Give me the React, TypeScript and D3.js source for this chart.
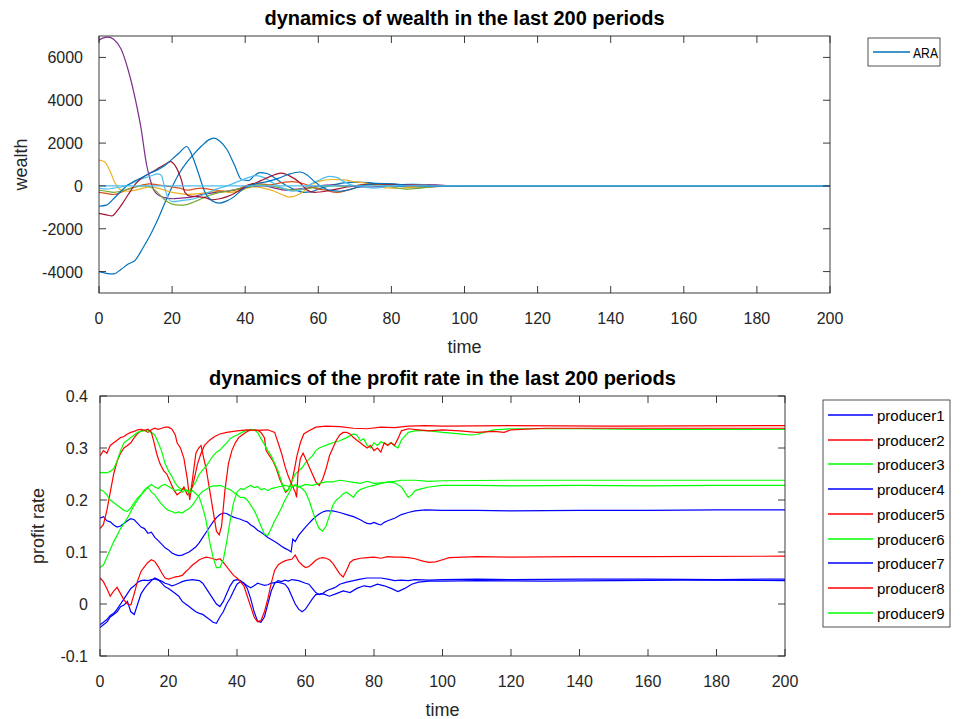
import React from "react";
import * as d3 from "d3";

type Pt = [number, number];

// ---------- tick labels ----------
const timeTicks = [0, 20, 40, 60, 80, 100, 120, 140, 160, 180, 200];
const wealthTicks = [-4000, -2000, 0, 2000, 4000, 6000];
const profitTicks = [-0.1, 0, 0.1, 0.2, 0.3, 0.4];

// ---------- top panel: wealth ----------
const wealthARA: Pt[] = [[0,-4000],[2,-4080],[4,-4110],[6,-3900],[8,-3650],[10,-3450],[12,-2900],[14,-2300],[16,-1600],[18,-800],[20,-50],[22,600],[24,1100],[26,1500],[28,1850],[30,2150],[31.5,2230],[33,2100],[35,1700],[37,1000],[39,300],[41,250],[42.5,480],[44,620],[46,580],[48,380],[50,150],[52,-50],[54,-200],[56,-300],[58,-280],[60,-150],[63,0],[66,120],[70,180],[74,150],[78,60],[82,-20],[86,-50],[90,-30],[95,20],[100,10],[110,0],[200,0]];
const wealth2: Pt[] = [[0,-300],[2,-350],[4,-400],[6,-300],[8,-150],[10,-50],[12,50],[14,100],[16,50],[18,0],[20,-50],[22,-100],[24,-200],[26,-150],[28,-100],[30,-150],[32,-200],[35,-250],[38,-150],[41,50],[44,100],[47,50],[50,150],[53,200],[56,100],[59,-100],[62,-200],[65,-300],[68,-200],[71,-50],[74,50],[78,100],[82,50],[86,-30],[90,-50],[95,0],[100,10],[110,0],[200,0]];
const wealth3: Pt[] = [[0,1200],[1.5,1130],[3,700],[4.5,100],[6,-200],[8,-250],[10,-200],[12,-100],[14,-50],[16,-100],[18,-200],[20,-300],[22,-350],[24,-400],[26,-380],[28,-350],[30,-300],[33,-250],[36,-300],[39,-200],[42,-50],[45,-100],[48,-250],[50,-400],[52,-520],[54,-450],[56,-250],[58,50],[61,250],[64,300],[67,280],[70,200],[74,100],[78,-80],[82,-110],[86,-60],[90,0],[95,-20],[100,0],[110,0],[200,0]];
const wealth4: Pt[] = [[0,6800],[1,6900],[2.5,6950],[4,6850],[6,6400],[8,5400],[10,4000],[11.5,2700],[13,1000],[14,300],[15,-200],[16.5,-450],[18,-550],[20,-600],[22,-580],[24,-550],[26,-500],[28,-400],[30,-350],[32,-300],[35,-250],[38,-150],[41,-50],[45,0],[48,-100],[51,-200],[54,-150],[57,-100],[60,0],[64,50],[68,0],[72,-50],[78,-20],[85,30],[90,60],[95,20],[100,0],[110,0],[200,0]];
const wealth5: Pt[] = [[0,-200],[2,-250],[4,-300],[6,-250],[8,-150],[10,-50],[12,0],[14,-50],[16,-300],[18,-650],[20,-850],[22,-900],[24,-870],[26,-750],[28,-600],[30,-450],[32,-350],[35,-250],[38,-150],[41,-50],[44,50],[47,0],[50,-100],[53,-200],[56,-150],[60,-50],[64,0],[68,-20],[72,50],[76,80],[80,-50],[84,-150],[88,-100],[92,-30],[100,0],[110,0],[200,0]];
const wealth6: Pt[] = [[0,-100],[2,-150],[4,-100],[6,-50],[8,50],[10,200],[12,350],[14,450],[16,560],[17,500],[18,-100],[19,-600],[20,-730],[22,-700],[24,-650],[26,-600],[28,-450],[30,-300],[32,-150],[35,0],[38,200],[41,400],[43,480],[45,400],[47,200],[49,0],[51,-150],[53,-250],[55,-200],[57,0],[60,250],[63,450],[65,400],[67,200],[69,50],[72,-50],[75,-100],[78,-50],[82,50],[86,80],[90,40],[95,0],[100,0],[110,0],[200,0]];
const wealth7: Pt[] = [[0,-1280],[2,-1350],[3.5,-1400],[5,-1150],[6.5,-800],[8,-400],[10,100],[12,400],[14,600],[16,800],[18,1000],[19.5,1130],[21,900],[22.5,300],[23.5,-300],[25,-480],[27,-500],[29,-550],[31,-650],[33,-600],[35,-500],[37,-350],[39,-150],[41,50],[43,150],[45,300],[48,520],[50,600],[52,480],[55,150],[57,-200],[59,-300],[62,-250],[65,-150],[68,-50],[72,50],[76,100],[80,80],[85,50],[90,30],[95,10],[100,0],[110,0],[200,0]];
const wealth8: Pt[] = [[0,-950],[2,-900],[4,-600],[6,-250],[8,50],[10,250],[12,420],[14,600],[16,750],[18,950],[20,1250],[22,1550],[24,1840],[25,1600],[27,700],[29,-300],[31,-700],[33,-800],[35,-700],[37,-500],[39,-200],[41,0],[43,100],[46,200],[49,350],[52,550],[55,650],[57,500],[59,200],[61,-50],[63,-200],[66,-250],[69,-150],[72,0],[76,120],[80,100],[85,20],[90,-20],[100,0],[110,0],[200,0]];
const wealth9: Pt[] = [[0,0],[200,0]];

const wealthSeries = [wealthARA, wealth2, wealth3, wealth4, wealth5, wealth6, wealth7, wealth8, wealth9];
const wealthColors = ["#0072BD", "#D95319", "#EDB120", "#7E2F8E", "#77AC30", "#4DBEEE", "#A2142F", "#0072BD", "#4DBEEE"];
const wealthLegend = ["ARA"];

// ---------- bottom panel: profit rate ----------
const producer1: Pt[] = [[0,0.165],[1,0.168],[2,0.16],[3,0.158],[4,0.152],[5,0.148],[6,0.15],[7,0.155],[8,0.16],[9,0.164],[10,0.162],[11,0.155],[12,0.148],[13,0.145],[14,0.136],[15,0.138],[16,0.128],[17,0.122],[18,0.115],[19,0.108],[20,0.104],[21,0.098],[22,0.095],[23,0.093],[24,0.094],[25,0.097],[26,0.1],[27,0.105],[28,0.11],[29,0.118],[30,0.128],[31,0.138],[32,0.148],[33,0.158],[34,0.166],[35,0.172],[36,0.175],[37,0.174],[38,0.17],[39,0.167],[40,0.165],[41,0.163],[42,0.16],[43,0.158],[44,0.152],[45,0.148],[46,0.142],[47,0.138],[48,0.133],[49,0.128],[50,0.124],[51,0.12],[52,0.116],[53,0.111],[54,0.107],[55,0.104],[55.8,0.1],[56.3,0.125],[57,0.12],[58,0.132],[59,0.14],[60,0.148],[61,0.155],[62,0.162],[63,0.168],[64,0.173],[65,0.177],[66,0.179],[68,0.179],[70,0.176],[72,0.172],[74,0.168],[76,0.162],[77,0.158],[78,0.155],[79,0.154],[80,0.157],[81,0.154],[82,0.152],[83,0.157],[84,0.16],[86,0.165],[88,0.172],[90,0.176],[92,0.179],[95,0.181],[100,0.18],[110,0.18],[120,0.179],[140,0.18],[160,0.18],[180,0.181],[200,0.181]];
const producer2: Pt[] = [[0,0.145],[1,0.153],[2,0.18],[3,0.215],[4,0.25],[5,0.275],[6,0.29],[7,0.3],[8,0.305],[9,0.31],[10,0.32],[11,0.328],[12,0.333],[13,0.334],[14,0.33],[15,0.335],[16,0.338],[17,0.336],[18,0.338],[19,0.34],[20,0.34],[21,0.336],[22,0.325],[22.5,0.31],[23.5,0.3],[24.5,0.28],[25.5,0.24],[26.2,0.2],[27,0.24],[28,0.29],[28.8,0.3],[29.5,0.305],[30.3,0.28],[31,0.26],[32,0.22],[33,0.18],[34,0.14],[34.8,0.133],[35.5,0.15],[36.5,0.22],[37.5,0.27],[38.5,0.295],[39.5,0.31],[40.5,0.32],[41.5,0.325],[42.5,0.33],[44,0.335],[45,0.335],[46,0.334],[47,0.33],[48,0.32],[48.5,0.295],[49.5,0.285],[50.5,0.275],[51.5,0.26],[52.5,0.24],[53.5,0.225],[54.2,0.215],[55,0.22],[56,0.235],[56.8,0.26],[57.5,0.285],[58.5,0.31],[59.5,0.327],[61,0.333],[63,0.34],[66,0.342],[70,0.341],[74,0.338],[78,0.337],[82,0.34],[86,0.339],[90,0.342],[95,0.343],[100,0.342],[120,0.343],[150,0.342],[200,0.343]];
const producer3: Pt[] = [[0,0.252],[1,0.253],[2,0.252],[3,0.255],[4,0.26],[5,0.275],[6,0.295],[7,0.31],[8,0.315],[9,0.32],[10,0.325],[11,0.33],[12,0.332],[13,0.334],[14,0.333],[15,0.33],[16,0.325],[17,0.31],[18,0.294],[19,0.27],[20,0.256],[21,0.245],[22,0.232],[23,0.224],[24,0.22],[25,0.22],[26,0.217],[27,0.225],[28,0.235],[29,0.25],[30,0.258],[31,0.265],[32,0.275],[33,0.285],[34,0.292],[35,0.296],[36,0.303],[37,0.31],[38,0.318],[39,0.322],[40,0.325],[42,0.332],[44,0.336],[45,0.335],[46,0.33],[47,0.318],[48,0.307],[49,0.295],[50,0.285],[51,0.27],[52,0.256],[53,0.235],[54,0.217],[55,0.22],[56,0.235],[57,0.25],[58,0.256],[59,0.262],[60,0.272],[61,0.278],[62,0.285],[63,0.295],[64,0.3],[65,0.303],[66,0.305],[67,0.308],[68,0.31],[70,0.314],[72,0.32],[74,0.327],[75,0.325],[76,0.314],[77,0.318],[78,0.305],[79,0.3],[80,0.31],[81,0.305],[82,0.312],[84,0.306],[85,0.31],[86,0.304],[87,0.3],[88,0.315],[90,0.33],[92,0.333],[95,0.334],[100,0.33],[105,0.327],[108,0.325],[110,0.326],[112,0.33],[115,0.335],[120,0.337],[140,0.337],[160,0.336],[200,0.336]];
const producer4: Pt[] = [[0,-0.04],[1,-0.035],[2,-0.03],[3,-0.022],[4,-0.018],[5,-0.01],[6,0],[7,0.01],[8,0.02],[9,0.03],[10,0.035],[11,0.042],[12,0.045],[13,0.046],[14,0.045],[15,0.047],[16,0.048],[17,0.046],[18,0.044],[19,0.04],[20,0.038],[21,0.035],[22,0.037],[23,0.04],[24,0.043],[25,0.045],[26,0.046],[27,0.047],[28,0.046],[29,0.045],[30,0.04],[31,0.03],[32,0.02],[33,0.01],[34,0],[35,-0.005],[36,0.005],[37,0.02],[38,0.035],[39,0.045],[40,0.047],[41,0.045],[42,0.04],[43,0.03],[44,0.01],[45,-0.015],[46,-0.033],[47,-0.035],[48,-0.025],[49,0],[50,0.025],[51,0.04],[52,0.045],[53,0.043],[54,0.046],[55,0.044],[56,0.047],[58,0.045],[60,0.04],[61,0.038],[62,0.03],[63,0.022],[64,0.018],[65,0.02],[66,0.025],[67,0.028],[68,0.03],[69,0.033],[70,0.038],[72,0.042],[74,0.045],[76,0.048],[78,0.05],[80,0.05],[82,0.05],[84,0.048],[86,0.045],[88,0.046],[90,0.045],[92,0.047],[96,0.046],[100,0.047],[110,0.048],[120,0.047],[140,0.048],[160,0.048],[180,0.047],[200,0.048]];
const producer5: Pt[] = [[0,0.285],[1,0.295],[2,0.29],[3,0.305],[4,0.31],[5,0.315],[6,0.32],[7,0.322],[8,0.327],[9,0.33],[10,0.332],[11,0.335],[12,0.336],[13,0.334],[14,0.336],[15,0.33],[15.8,0.31],[16.6,0.288],[17.5,0.27],[18.6,0.256],[19.5,0.25],[20.5,0.235],[21.5,0.22],[22.5,0.21],[23.5,0.215],[24.5,0.225],[25.5,0.21],[26.5,0.215],[27.5,0.24],[28.5,0.27],[29.5,0.29],[30.5,0.305],[32,0.315],[33.5,0.322],[35,0.327],[37,0.33],[40,0.333],[43,0.335],[46,0.334],[49,0.335],[51,0.33],[52,0.31],[53,0.29],[54,0.265],[55,0.245],[56,0.23],[57,0.215],[57.4,0.205],[57.8,0.25],[58.5,0.28],[59.3,0.29],[60,0.28],[61,0.265],[62,0.25],[63,0.235],[64,0.228],[65,0.24],[66,0.26],[67,0.285],[68,0.3],[69,0.315],[70,0.325],[71,0.33],[72,0.33],[73,0.327],[74,0.32],[75,0.315],[76,0.31],[77,0.305],[78,0.3],[79,0.305],[80,0.295],[81,0.3],[82,0.292],[83,0.31],[84,0.305],[85,0.31],[86,0.305],[87,0.318],[88,0.333],[90,0.337],[93,0.335],[96,0.333],[100,0.335],[105,0.333],[110,0.33],[115,0.332],[118,0.33],[120,0.335],[130,0.338],[150,0.338],[200,0.338]];
const producer6: Pt[] = [[0,0.22],[1,0.217],[2,0.21],[3,0.2],[4,0.195],[5,0.19],[6,0.185],[7,0.18],[8,0.178],[9,0.185],[10,0.195],[11,0.204],[12,0.21],[13,0.22],[14,0.225],[15,0.215],[16,0.21],[17,0.2],[18,0.192],[19,0.185],[20,0.18],[21,0.178],[22,0.175],[23,0.177],[24,0.175],[25,0.18],[26,0.183],[27,0.19],[28,0.2],[29,0.21],[30,0.217],[31,0.22],[32,0.225],[33,0.227],[34,0.227],[35,0.228],[36,0.226],[37,0.222],[38,0.22],[39,0.215],[40,0.21],[41,0.205],[42,0.205],[43,0.2],[44,0.19],[45,0.18],[46,0.166],[47,0.15],[48,0.134],[49,0.132],[50,0.145],[51,0.16],[52,0.172],[53,0.185],[54,0.2],[55,0.211],[56,0.224],[57,0.228],[58,0.225],[60,0.23],[62,0.228],[64,0.232],[66,0.235],[68,0.235],[70,0.238],[72,0.236],[74,0.234],[76,0.232],[78,0.236],[80,0.232],[84,0.234],[88,0.238],[92,0.238],[96,0.236],[100,0.237],[120,0.238],[150,0.238],[200,0.238]];
const producer7: Pt[] = [[0,-0.045],[1,-0.04],[2,-0.035],[3,-0.025],[4,-0.02],[5,-0.015],[6,-0.005],[7,-0.002],[8,0.005],[9,-0.015],[10,-0.02],[11,0],[12,0.02],[13,0.03],[14,0.038],[15,0.045],[16,0.05],[17,0.047],[18,0.04],[19,0.033],[20,0.03],[21,0.025],[22,0.02],[23,0.015],[24,0.005],[25,0],[26,-0.005],[27,-0.01],[28,-0.015],[29,-0.018],[30,-0.02],[31,-0.025],[32,-0.03],[33,-0.035],[34,-0.037],[35,-0.025],[36,-0.015],[37,0],[38,0.011],[39,0.025],[40,0.038],[41,0.043],[42,0.04],[43,0.035],[44,0.031],[45,0.035],[46,0.04],[47,0.038],[48,0.036],[49,0.037],[50,0.04],[52,0.042],[54,0.038],[55,0.03],[56,0.015],[57,0],[58,-0.01],[59,-0.015],[60,-0.01],[61,0],[62,0.01],[63,0.018],[65,0.02],[67,0.015],[69,0.02],[71,0.025],[73,0.022],[75,0.03],[77,0.035],[79,0.033],[81,0.038],[83,0.035],[85,0.03],[87,0.024],[89,0.03],[91,0.038],[93,0.042],[96,0.044],[100,0.044],[110,0.045],[130,0.044],[150,0.045],[170,0.046],[200,0.045]];
const producer8: Pt[] = [[0,0.05],[1,0.043],[2,0.03],[3,0.015],[4,0.025],[5,0.032],[6,0.02],[7,0.008],[8,0],[9,-0.002],[10,0.02],[11,0.045],[12,0.063],[13,0.072],[14,0.08],[15,0.085],[16,0.082],[17,0.072],[18,0.06],[19,0.05],[20,0.048],[21,0.05],[22,0.052],[23,0.053],[24,0.055],[25,0.062],[26,0.068],[27,0.075],[28,0.08],[29,0.085],[30,0.088],[31,0.09],[32,0.089],[33,0.087],[34,0.085],[35,0.087],[36,0.08],[37,0.072],[38,0.063],[39,0.055],[40,0.05],[41,0.043],[42,0.035],[43,0.015],[44,-0.005],[45,-0.025],[46,-0.034],[47,-0.032],[48,-0.015],[49,0.01],[50,0.04],[51,0.065],[52,0.075],[53,0.08],[54,0.083],[55,0.085],[56,0.086],[57,0.094],[58,0.082],[59,0.075],[60,0.07],[61,0.072],[62,0.078],[63,0.084],[64,0.088],[65,0.089],[66,0.088],[67,0.085],[68,0.078],[69,0.068],[70,0.058],[71,0.052],[72,0.065],[73,0.08],[74,0.085],[76,0.088],[78,0.089],[80,0.09],[82,0.088],[84,0.091],[86,0.09],[88,0.09],[90,0.089],[92,0.087],[94,0.083],[96,0.08],[98,0.081],[100,0.085],[102,0.089],[106,0.09],[110,0.091],[120,0.09],[140,0.091],[160,0.091],[200,0.092]];
const producer9: Pt[] = [[0,0.07],[1,0.075],[2,0.09],[3,0.105],[4,0.12],[5,0.132],[6,0.145],[7,0.155],[8,0.165],[9,0.178],[10,0.19],[11,0.2],[12,0.21],[13,0.217],[14,0.225],[15,0.23],[16,0.225],[17,0.222],[18,0.228],[19,0.23],[20,0.226],[21,0.222],[22,0.218],[23,0.22],[24,0.215],[25,0.22],[26,0.213],[27,0.218],[28,0.212],[29,0.205],[30,0.185],[31,0.16],[32,0.12],[33,0.09],[34,0.07],[35,0.07],[36,0.085],[37,0.12],[38,0.16],[39,0.195],[40,0.215],[41,0.222],[42,0.22],[43,0.225],[44,0.228],[45,0.224],[46,0.226],[47,0.22],[48,0.222],[49,0.218],[50,0.222],[52,0.225],[54,0.228],[56,0.225],[57,0.23],[58,0.226],[59,0.222],[60,0.215],[61,0.2],[62,0.18],[63,0.16],[64,0.145],[65,0.14],[66,0.15],[67,0.17],[68,0.19],[69,0.2],[70,0.205],[71,0.212],[72,0.215],[73,0.21],[74,0.205],[75,0.215],[76,0.22],[78,0.225],[80,0.228],[82,0.232],[84,0.235],[86,0.233],[88,0.225],[89,0.215],[90,0.205],[91,0.21],[92,0.218],[94,0.222],[96,0.225],[100,0.228],[110,0.228],[120,0.227],[140,0.228],[160,0.227],[180,0.228],[200,0.228]];

const profitSeries = [producer1, producer2, producer3, producer4, producer5, producer6, producer7, producer8, producer9];
const profitLabels = ["producer1", "producer2", "producer3", "producer4", "producer5", "producer6", "producer7", "producer8", "producer9"];
const profitColors = ["#0000FF", "#FF0000", "#00FF00", "#0000FF", "#FF0000", "#00FF00", "#0000FF", "#FF0000", "#00FF00"];

const FONT = "'Liberation Sans', Arial, Helvetica, sans-serif";
const AX = "#262626";

type AxesProps = {
  x: d3.ScaleLinear<number, number>;
  y: d3.ScaleLinear<number, number>;
  xTicks: number[];
  yTicks: number[];
  yFmt: (v: number) => string;
  yGap: number;
  title: string;
  xLabel: string;
  yLabel: string;
  yLabelX: number;
  children?: React.ReactNode;
};

function Axes({ x, y, xTicks, yTicks, yFmt, yGap, title, xLabel, yLabel, yLabelX, children }: AxesProps) {
  const [x0, x1] = x.range();
  const [y0, y1] = y.range();
  const tl = 7;
  const cx = (x0 + x1) / 2;
  return (
    <g>
      {children}
      <rect x={x0} y={y1} width={x1 - x0} height={y0 - y1} fill="none" stroke={AX} strokeWidth={0.9} />
      {xTicks.map((t) => (
        <g key={"xt" + t}>
          <line x1={x(t)} x2={x(t)} y1={y0} y2={y0 - tl} stroke={AX} strokeWidth={0.9} />
          <line x1={x(t)} x2={x(t)} y1={y1} y2={y1 + tl} stroke={AX} strokeWidth={0.9} />
          <text x={x(t)} y={y0 + 31} textAnchor="middle" fontSize={16} fill={AX} fontFamily={FONT}>{t}</text>
        </g>
      ))}
      {yTicks.map((t) => (
        <g key={"yt" + t}>
          <line x1={x0} x2={x0 + tl} y1={y(t)} y2={y(t)} stroke={AX} strokeWidth={0.9} />
          <line x1={x1} x2={x1 - tl} y1={y(t)} y2={y(t)} stroke={AX} strokeWidth={0.9} />
          <text x={x0 - yGap} y={y(t) + 6} textAnchor="end" fontSize={16} fill={AX} fontFamily={FONT}>{yFmt(t)}</text>
        </g>
      ))}
      <text x={cx} y={y1 - 11} textAnchor="middle" fontSize={20} fontWeight="bold" fill="#000" fontFamily={FONT}>{title}</text>
      <text x={cx} y={y0 + 60} textAnchor="middle" fontSize={18} fill={AX} fontFamily={FONT}>{xLabel}</text>
      <text transform={`translate(${yLabelX},${(y0 + y1) / 2}) rotate(-90)`} textAnchor="middle" fontSize={18} fill={AX} fontFamily={FONT}>{yLabel}</text>
    </g>
  );
}

export default function App() {
  const xTop = d3.scaleLinear().domain([0, 200]).range([99, 830]);
  const yTop = d3.scaleLinear().domain([-5000, 7000]).range([293, 36]);
  const xBot = d3.scaleLinear().domain([0, 200]).range([100, 785]);
  const yBot = d3.scaleLinear().domain([-0.1, 0.4]).range([656, 396]);

  const lineTop = d3.line<Pt>().x((d) => xTop(d[0])).y((d) => yTop(d[1])).curve(d3.curveMonotoneX);
  const lineBot = d3.line<Pt>().x((d) => xBot(d[0])).y((d) => yBot(d[1])).curve(d3.curveLinear);

  const legRowH = 24.7;
  const snap = (v: number) => Math.round(v);

  return (
    <svg width={966} height={719} style={{ position: "absolute", left: 0, top: 0, background: "#fff" }}>
      <rect x={0} y={0} width={966} height={719} fill="#fff" />
      <defs>
        <clipPath id="clipTop"><rect x={99} y={36} width={731} height={257} /></clipPath>
        <clipPath id="clipBot"><rect x={100} y={396} width={685} height={260} /></clipPath>
      </defs>
      <Axes x={xTop} y={yTop} xTicks={timeTicks} yTicks={wealthTicks} yFmt={(v) => String(v)} yGap={16}
        title="dynamics of wealth in the last 200 periods" xLabel="time" yLabel="wealth" yLabelX={27}>
        <g clipPath="url(#clipTop)">
          {wealthSeries.map((s, i) => (
            <path key={i} d={lineTop(s) || ""} fill="none" stroke={wealthColors[i]} strokeWidth={1.2} />
          ))}
        </g>
      </Axes>
      <Axes x={xBot} y={yBot} xTicks={timeTicks} yTicks={profitTicks} yFmt={(v) => String(Math.round(v * 10) / 10)} yGap={12}
        title="dynamics of the profit rate in the last 200 periods" xLabel="time" yLabel="profit rate" yLabelX={44}>
        <g clipPath="url(#clipBot)">
          {profitSeries.map((s, i) => (
            <path key={i} d={lineBot(s) || ""} fill="none" stroke={profitColors[i]} strokeWidth={1.2} />
          ))}
        </g>
      </Axes>
      <g>
        <rect x={868} y={38} width={72} height={28} fill="#fff" stroke={AX} strokeWidth={0.8} />
        {wealthLegend.map((l, i) => (
          <g key={l}>
            <line x1={873} x2={910} y1={snap(52 + i * legRowH)} y2={snap(52 + i * legRowH)} stroke={wealthColors[i]} strokeWidth={1.5} />
            <text x={913} y={57.5 + i * legRowH} fontSize={15} fill="#000" fontFamily={FONT} textLength={25} lengthAdjust="spacingAndGlyphs">{l}</text>
          </g>
        ))}
      </g>
      <g>
        <rect x={823} y={400} width={127} height={227} fill="#fff" stroke={AX} strokeWidth={0.8} />
        {profitLabels.map((l, i) => (
          <g key={l}>
            <line x1={828} x2={873} y1={snap(415 + i * legRowH)} y2={snap(415 + i * legRowH)} stroke={profitColors[i]} strokeWidth={1.5} />
            <text x={877} y={421 + i * legRowH} fontSize={15} fill="#000" fontFamily={FONT}>{l}</text>
          </g>
        ))}
      </g>
    </svg>
  );
}
